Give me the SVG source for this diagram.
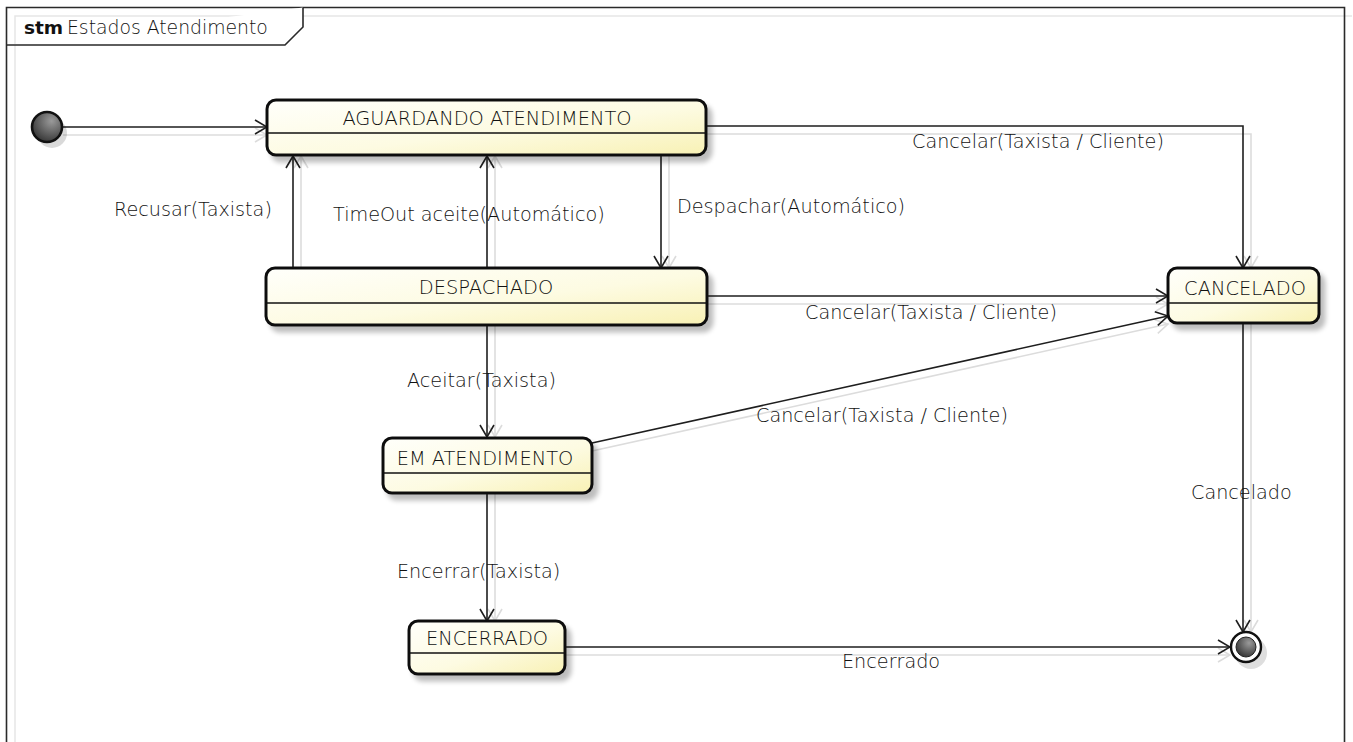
<svg xmlns="http://www.w3.org/2000/svg" width="1353" height="742" viewBox="0 0 1353 742">
  <defs>
    <style>
      text { font-family: "DejaVu Sans", "Liberation Sans", sans-serif; font-size: 19.2px; fill: #111111; font-weight: 300; }
      .title-b { font-weight: bold; font-size: 18.5px; fill: #111; }
      .title { font-size: 18.8px; }
      .state { stroke: #111; stroke-width: 3; fill: url(#stateFill); filter: url(#nodeShadow); }
      .divider { stroke: #111; stroke-width: 1.6; }
      .edge { fill: none; stroke: #1e1e1e; stroke-width: 1.6; marker-end: url(#arrowOpen); }
      .edge-shadow { fill: none; stroke: #dcdcdc; stroke-width: 1.6; marker-end: url(#arrowShadow); }
      .name { text-anchor: middle; font-size: 19.4px; }
    </style>
    <linearGradient id="stateFill" x1="0" y1="0" x2="1" y2="1">
      <stop offset="0" stop-color="#fffffb"/>
      <stop offset="0.55" stop-color="#fdfbe2"/>
      <stop offset="1" stop-color="#f8f1b4"/>
    </linearGradient>
    <radialGradient id="initFill" cx="0.65" cy="0.3" r="0.8">
      <stop offset="0" stop-color="#9a9a9a"/>
      <stop offset="1" stop-color="#2e2e2e"/>
    </radialGradient>
    <filter id="nodeShadow" x="-10%" y="-20%" width="130%" height="160%">
      <feGaussianBlur in="SourceAlpha" stdDeviation="2.5"/>
      <feOffset dx="5" dy="6" result="off"/>
      <feComponentTransfer><feFuncA type="linear" slope="0.26"/></feComponentTransfer>
      <feMerge><feMergeNode/><feMergeNode in="SourceGraphic"/></feMerge>
    </filter>
    <marker id="arrowOpen" viewBox="0 0 14 16" refX="13" refY="8" markerWidth="14" markerHeight="16" orient="auto" markerUnits="userSpaceOnUse">
      <path d="M1,1 L13,8 L1,15" fill="none" stroke="#1e1e1e" stroke-width="1.6"/>
    </marker>
    <marker id="arrowShadow" viewBox="0 0 14 16" refX="13" refY="8" markerWidth="14" markerHeight="16" orient="auto" markerUnits="userSpaceOnUse">
      <path d="M1,1 L13,8 L1,15" fill="none" stroke="#dcdcdc" stroke-width="1.6"/>
    </marker>
  </defs>

  <rect width="1353" height="742" fill="#ffffff"/>

  <!-- diagram frame -->
  <g id="frame">
    <path d="M15,742 V16 H1352" fill="none" stroke="#e6e6e6" stroke-width="1.5"/>
    <path d="M6.5,742 V7.5 H1344.5 V742" fill="none" stroke="#2a2a2a" stroke-width="1.6"/>
    <path d="M6.5,45 H285 L303,27 V7.5" fill="#ffffff" stroke="#2a2a2a" stroke-width="1.6"/>
    <text x="24" y="34" class="title-b">stm</text>
    <text x="67" y="34" class="title">Estados Atendimento</text>
  </g>

  <!-- transitions -->
  <g id="connectors">
    <!-- soft shadows -->
    <path class="edge-shadow" d="M63,135 H267"/>
    <path class="edge-shadow" d="M707,134 H1251 V268"/>
    <path class="edge-shadow" d="M669,155 V268"/>
    <path class="edge-shadow" d="M301,268 V156"/>
    <path class="edge-shadow" d="M495,268 V156"/>
    <path class="edge-shadow" d="M708,304 H1168"/>
    <path class="edge-shadow" d="M495,325 V437"/>
    <path class="edge-shadow" d="M592,451 L1168,324"/>
    <path class="edge-shadow" d="M495,493 V621"/>
    <path class="edge-shadow" d="M565,655 H1230"/>
    <path class="edge-shadow" d="M1251,323 V632"/>

    <path class="edge" d="M63,127 H267"/>
    <path class="edge" d="M707,126 H1243 V268"/>
    <path class="edge" d="M661,155 V268"/>
    <path class="edge" d="M293,268 V156"/>
    <path class="edge" d="M487,268 V156"/>
    <path class="edge" d="M708,296 H1168"/>
    <path class="edge" d="M487,325 V437"/>
    <path class="edge" d="M592,443 L1168,316"/>
    <path class="edge" d="M487,493 V621"/>
    <path class="edge" d="M565,647 H1230"/>
    <path class="edge" d="M1243,323 V632"/>

    <text x="912" y="148">Cancelar(Taxista / Cliente)</text>
    <text x="114" y="216">Recusar(Taxista)</text>
    <text x="333" y="221">TimeOut aceite(Automático)</text>
    <text x="677" y="213">Despachar(Automático)</text>
    <text x="805" y="319">Cancelar(Taxista / Cliente)</text>
    <text x="407" y="387">Aceitar(Taxista)</text>
    <text x="756" y="422">Cancelar(Taxista / Cliente)</text>
    <text x="1191" y="499">Cancelado</text>
    <text x="397" y="578">Encerrar(Taxista)</text>
    <text x="842" y="668">Encerrado</text>
  </g>

  <!-- initial pseudo-state -->
  <g id="initial">
    <circle cx="52" cy="133" r="15" fill="#000" opacity="0.15"/>
    <circle cx="47" cy="127" r="15" fill="url(#initFill)" stroke="#111" stroke-width="2.6"/>
  </g>

  <g id="aguardando">
    <rect class="state" x="267" y="100" width="439" height="55" rx="9"/>
    <line class="divider" x1="268" y1="133" x2="705" y2="133"/>
    <text class="name" x="487" y="125">AGUARDANDO ATENDIMENTO</text>
  </g>

  <g id="despachado">
    <rect class="state" x="266" y="268" width="441" height="57" rx="9"/>
    <line class="divider" x1="267" y1="303" x2="706" y2="303"/>
    <text class="name" x="486" y="294">DESPACHADO</text>
  </g>

  <g id="cancelado">
    <rect class="state" x="1168" y="268" width="151" height="55" rx="9"/>
    <line class="divider" x1="1169" y1="303" x2="1318" y2="303"/>
    <text class="name" x="1245" y="295">CANCELADO</text>
  </g>

  <g id="em-atendimento">
    <rect class="state" x="383" y="438" width="209" height="55" rx="9"/>
    <line class="divider" x1="384" y1="473" x2="591" y2="473"/>
    <text class="name" x="485" y="465">EM ATENDIMENTO</text>
  </g>

  <g id="encerrado">
    <rect class="state" x="409" y="621" width="156" height="53" rx="9"/>
    <line class="divider" x1="410" y1="653" x2="564" y2="653"/>
    <text class="name" x="487" y="645">ENCERRADO</text>
  </g>

  <!-- final state -->
  <g id="final">
    <circle cx="1251" cy="653" r="16" fill="#000" opacity="0.13"/>
    <circle cx="1246" cy="647" r="15" fill="#ffffff" stroke="#111" stroke-width="2.4"/>
    <circle cx="1246" cy="647" r="10" fill="url(#initFill)" stroke="#222" stroke-width="1"/>
  </g>
</svg>
